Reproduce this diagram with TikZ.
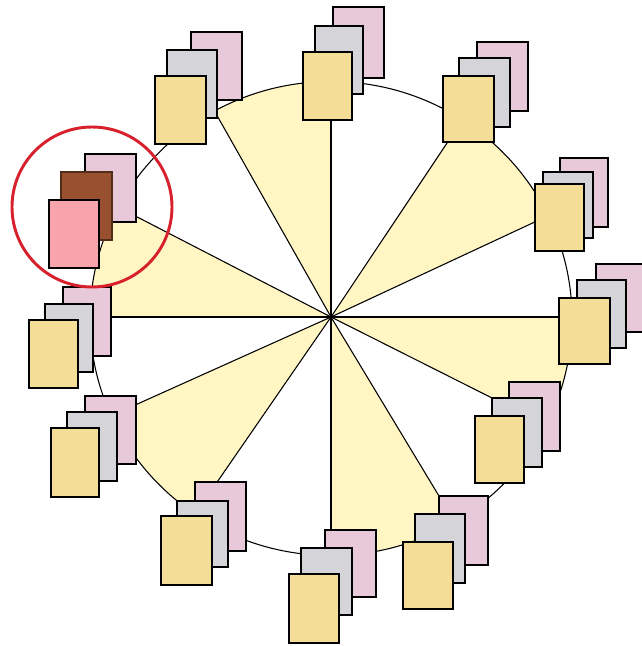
\documentclass[tikz,border=0pt]{standalone}
\definecolor{wedge}{HTML}{FFF6C4}
\definecolor{cardpink}{HTML}{E8C9D9}
\definecolor{cardgray}{HTML}{D5D5D9}
\definecolor{cardyellow}{HTML}{F3DD97}
\definecolor{frontpink}{HTML}{F9A3AC}
\definecolor{cardbrown}{HTML}{98502F}
\definecolor{ring}{HTML}{D7202C}
\begin{document}
\begin{tikzpicture}[x=0.75pt,y=-0.75pt,
  card/.style={draw=black,line width=1pt},
  ray/.style={draw=black,line width=0.8pt}]
\clip (0,0) rectangle (642,646);
\fill[white] (0,0) rectangle (642,646);
\coordinate (c) at (331,317);
\coordinate (oc) at (331,318.5);
% wedges and rays
\begin{scope}
  \clip (oc) ellipse [x radius=241, y radius=237];
  \begin{scope}[shift={(c)}]
    \foreach \a/\b in {25/56.3, 90/119.5, 152.7/180, 204.2/235.4, 270/301.1, 333.3/360}
      \fill[wedge] (0,0) -- (-\a:700) -- ({-(\a+\b)/2}:700) -- (-\b:700) -- cycle;
    \foreach \a in {0,25,56.3,90,119.5,152.7,180,204.2,235.4,270,301.1,333.3}
      \draw[ray] (0,0) -- (-\a:700);
  \end{scope}
\end{scope}
\draw[line width=0.8pt] (oc) ellipse [x radius=241, y radius=237];
% card stacks: pink (back), gray (middle), yellow (front)
\foreach \pa/\pb/\pc/\pd/\ga/\gb/\gc/\gd/\ya/\yb/\yc/\yd in {
  191/32/242/100/167/50/217/118/155/76/206/144,
  333/7/384/78/315/26/363/94/303/52/352/120,
  477/42/528/111/459/58/510/127/443/76/494/142,
  560/158/608/227/543/172/593/238/535/184/584/251,
  596/264/648/332/577/280/626/348/559/298/610/364,
  509/382/560/451/492/398/542/467/475/416/524/483,
  439/496/488/565/415/514/465/583/403/542/453/609,
  325/530/376/597/301/548/352/615/289/574/339/643,
  195/482/246/551/177/501/228/567/161/516/212/585,
  85/396/136/464/67/412/117/481/51/428/99/497,
  63/287/111/356/45/304/93/372/29/320/78/388}{
  \draw[card,fill=cardpink] (\pa,\pb) rectangle (\pc,\pd);
  \draw[card,fill=cardgray] (\ga,\gb) rectangle (\gc,\gd);
  \draw[card,fill=cardyellow] (\ya,\yb) rectangle (\yc,\yd);
}
% highlighted stack
\draw[card,fill=cardpink] (85,154) rectangle (136,222);
\draw[line width=0.8pt,draw=cardbrown!55!black,fill=cardbrown] (61,172) rectangle (112,240);
\draw[card,fill=frontpink] (49,200) rectangle (99,268);
\draw[ring,line width=2.2pt] (92,207) circle [radius=80];
\end{tikzpicture}
\end{document}
